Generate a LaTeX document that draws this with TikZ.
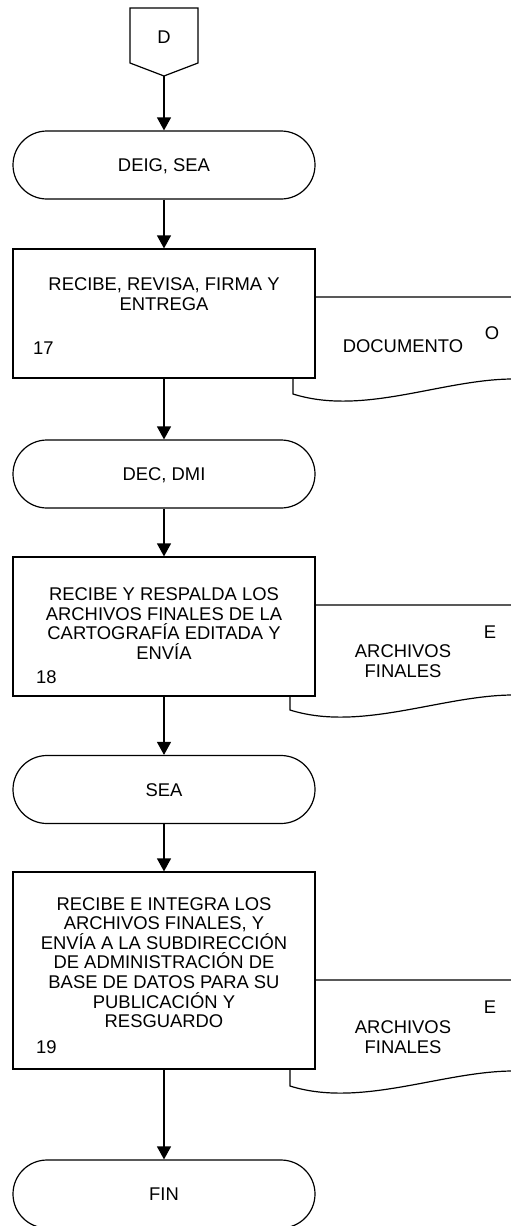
\documentclass[tikz,border=0pt]{standalone}
\usepackage{fontspec}
\setmainfont{Liberation Sans}
\usetikzlibrary{shapes.misc,arrows.meta}
\tikzset{
  every node/.style={font=\fontsize{18.4}{19.6}\selectfont, inner sep=0pt},
  ln/.style={line width=1.2pt},
  one/.style={text height=13.2pt, text depth=0pt},
  term/.style={ln, draw, rounded rectangle, minimum width=302pt, minimum height=68pt, fill=white, one},
  procbox/.style={ln, draw, rectangle, fill=white, minimum width=302pt},
  flow/.style={ln, -{Triangle[width=14pt,length=13pt]}},
  doc/.style={ln, line join=miter},
  txt/.style={align=center},
}
\begin{document}
\begin{tikzpicture}[x=1pt,y=-1pt]
\useasboundingbox (0,0) rectangle (511,1226);
\clip (0,0) rectangle (511,1226);
% documents (partly hidden behind the process boxes)
\draw[doc] (530,297) -- (293,297) -- (293,394) .. controls (363,416) and (440,380) .. (511,379) -- (530,379);
\draw[doc] (530,605) -- (290,605) -- (290,710) .. controls (360,732) and (440,696) .. (511,695) -- (530,695);
\draw[doc] (530,980) -- (290,980) -- (290,1086) .. controls (360,1108) and (440,1072) .. (511,1071) -- (530,1071);
% off-page connector
\draw[ln, fill=white] (130,8) -- (198,8) -- (198,63) -- (164,76) -- (130,63) -- cycle;
\node[one] (dlab) at (164,37) {D};
\coordinate (dtip) at (164,76);
% terminals
\node[term] (t1) at (164,165) {DEIG, SEA};
\node[term] (t2) at (164,474) {DEC, DMI};
\node[term] (t3) at (164,789.5) {SEA};
\node[term] (t4) at (164,1194) {FIN};
% process boxes
\node[procbox, minimum height=129pt] (b1) at (164,313.5) {};
\node[procbox, minimum height=139pt] (b2) at (164,626.5) {};
\node[procbox, minimum height=197pt] (b3) at (164,970.5) {};
% box texts
\node[txt] (b1t) at (164,294) {RECIBE, REVISA, FIRMA Y\\ENTREGA};
\node[one, anchor=west] (b1n) at (33,348) {17};
\node[txt] (b2t) at (164,623.5) {RECIBE Y RESPALDA LOS\\ARCHIVOS FINALES DE LA\\CARTOGRAFÍA EDITADA Y\\ENVÍA};
\node[one, anchor=west] (b2n) at (36,677) {18};
\node[txt] (b3t) at (164,962.5) {RECIBE E INTEGRA LOS\\ARCHIVOS FINALES, Y\\ENVÍA A LA SUBDIRECCIÓN\\DE ADMINISTRACIÓN DE\\BASE DE DATOS PARA SU\\PUBLICACIÓN Y\\RESGUARDO};
\node[one, anchor=west] (b3n) at (36,1047) {19};
% document texts
\node[one] (d1o) at (492,333) {O};
\node[one] (d1t) at (403,346) {DOCUMENTO};
\node[one] (d2e) at (490,632) {E};
\node[txt] (d2t) at (403,661) {ARCHIVOS\\FINALES};
\node[one] (d3e) at (490,1007) {E};
\node[txt] (d3t) at (403,1037) {ARCHIVOS\\FINALES};
% flow
\draw[flow] (dtip) -- (t1.north);
\draw[flow] (t1.south) -- (b1.north);
\draw[flow] (b1.south) -- (t2.north);
\draw[flow] (t2.south) -- (b2.north);
\draw[flow] (b2.south) -- (t3.north);
\draw[flow] (t3.south) -- (b3.north);
\draw[flow] (b3.south) -- (t4.north);
\end{tikzpicture}
\end{document}
